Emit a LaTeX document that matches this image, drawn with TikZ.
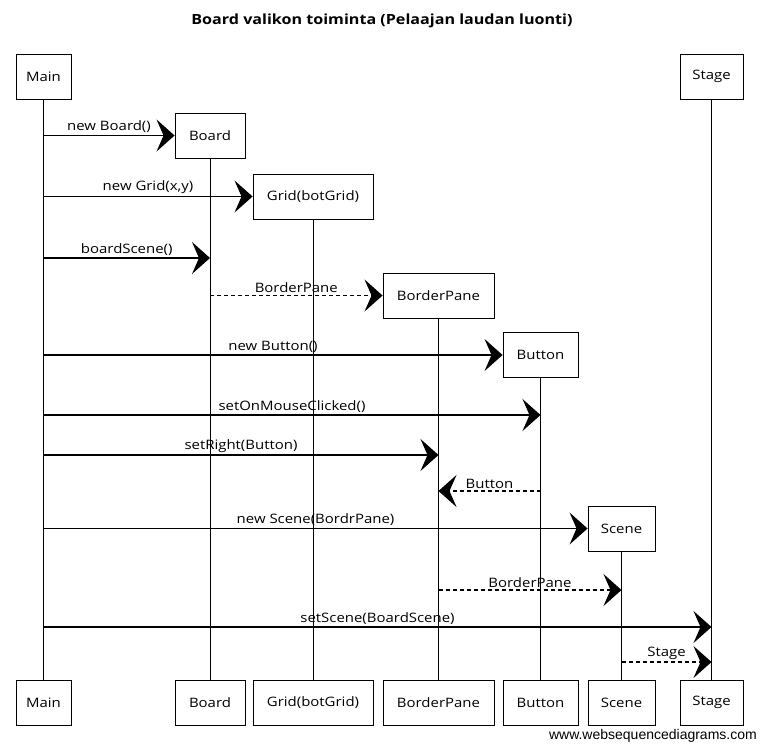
\documentclass[tikz,border=0pt]{standalone}
\usepackage{fontspec}
\setmainfont{Open Sans}[FakeStretch=1.15]
\newfontfamily\wsdfont{Liberation Sans}
\usetikzlibrary{arrows.meta}
\begin{document}
\begin{tikzpicture}[x=1pt,y=-1pt,
  actor/.style={draw, line width=0.9pt, minimum height=45pt, inner sep=0pt,
    font=\fontsize{13}{15}\selectfont},
  life/.style={line width=0.7pt},
  msg/.style={line width=1.1pt, -{Stealth[length=18pt,width=32pt,inset=7pt]}},
  ret/.style={msg, dash pattern=on 4pt off 3pt},
  lbl/.style={above, inner sep=2pt, font=\fontsize{13}{15}\selectfont}]
\useasboundingbox (0,0) rectangle (763,750);
% title
\node (title) at (382,21) {\fontsize{14}{16}\selectfont\bfseries Board valikon toiminta (Pelaajan laudan luonti)};
% top boxes
\node[actor, minimum width=55pt] (mainT) at (43.5,76.5) {Main};
\node[actor, minimum width=63pt] (stageT) at (711.5,76.5) {Stage};
\node[actor, minimum width=70pt] (boardT) at (210,135.5) {Board};
\node[actor, minimum width=120pt] (gridT) at (313,196.5) {Grid(botGrid)};
\node[actor, minimum width=111pt] (paneT) at (438.5,295.5) {BorderPane};
\node[actor, minimum width=75pt] (buttonT) at (540.5,355) {Button};
\node[actor, minimum width=67pt] (sceneT) at (621.5,528.5) {Scene};
% bottom boxes
\node[actor, minimum width=55pt] (mainB) at (43.5,702.5) {Main};
\node[actor, minimum width=70pt] (boardB) at (210,702.5) {Board};
\node[actor, minimum width=120pt] (gridB) at (313,702.5) {Grid(botGrid)};
\node[actor, minimum width=111pt] (paneB) at (438.5,702.5) {BorderPane};
\node[actor, minimum width=75pt] (buttonB) at (540.5,702.5) {Button};
\node[actor, minimum width=67pt] (sceneB) at (621.5,702.5) {Scene};
\node[actor, minimum width=63pt] (stageB) at (711.5,702.5) {Stage};
% lifelines
\draw[life] (mainT) -- (mainB);
\draw[life] (stageT) -- (stageB);
\draw[life] (boardT) -- (boardB);
\draw[life] (gridT) -- (gridB);
\draw[life] (paneT) -- (paneB);
\draw[life] (buttonT) -- (buttonB);
\draw[life] (sceneT) -- (sceneB);
% messages
\draw[msg] (mainT |- boardT.west) -- node[lbl]{new Board()} (boardT.west);
\draw[msg] (mainT |- gridT.west) -- node[lbl]{new Grid(x,y)} (gridT.west);
\draw[msg] (mainT |- 0,258) -- node[lbl]{boardScene()} (boardT |- 0,258);
\draw[ret] (boardT |- paneT.west) -- node[lbl]{BorderPane} (paneT.west);
\draw[msg] (mainT |- buttonT.west) -- node[lbl]{new Button()} (buttonT.west);
\draw[msg] (mainT |- 0,415) -- node[lbl]{setOnMouseClicked()} (buttonT |- 0,415);
\draw[msg] (mainT |- 0,455) -- node[lbl]{setRight(Button)} (paneT |- 0,455);
\draw[ret] (buttonT |- 0,491) -- node[lbl]{Button} (paneT |- 0,491);
\draw[msg] (mainT |- sceneT.west) -- node[lbl]{new Scene(BordrPane)} (sceneT.west);
\draw[ret] (paneT |- 0,590) -- node[lbl]{BorderPane} (sceneT |- 0,590);
\draw[msg] (mainT |- 0,627) -- node[lbl]{setScene(BoardScene)} (stageT |- 0,627);
\draw[ret] (sceneT |- 0,662) -- node[lbl]{Stage} (stageT |- 0,662);
% watermark
\node[anchor=east, inner sep=0pt] (wm) at (757,736) {\wsdfont\fontsize{14}{16}\selectfont www.websequencediagrams.com};
\end{tikzpicture}
\end{document}
